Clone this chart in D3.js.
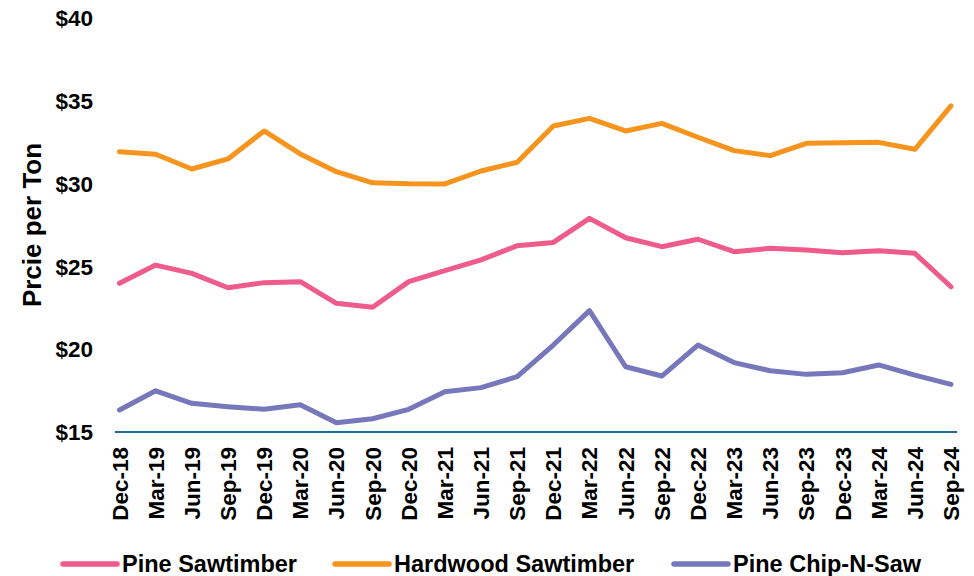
<!DOCTYPE html>
<html>
<head>
<meta charset="utf-8">
<script src="https://cdn.jsdelivr.net/npm/d3@7"></script>
<style>
  body { margin: 0; background: #fff; }
  text { font-family: "Liberation Sans", Arial, sans-serif; font-weight: bold; fill: #000; }
</style>
</head>
<body>
<div class="chart"></div>
<script>
var quarters = ["Dec-18","Mar-19","Jun-19","Sep-19","Dec-19","Mar-20","Jun-20","Sep-20","Dec-20","Mar-21","Jun-21","Sep-21",
                "Dec-21","Mar-22","Jun-22","Sep-22","Dec-22","Mar-23","Jun-23","Sep-23","Dec-23","Mar-24","Jun-24","Sep-24"];

var pineSaw = [23.98,25.08,24.58,23.71,24.02,24.08,22.77,22.53,24.08,24.74,25.39,26.25,
               26.45,27.9,26.73,26.19,26.64,25.89,26.09,25.99,25.83,25.95,25.79,23.77];
var hardwoodSaw = [31.93,31.77,30.88,31.49,33.18,31.79,30.72,30.05,29.99,29.98,30.76,31.29,
                   33.48,33.94,33.18,33.64,32.8,31.99,31.69,32.43,32.47,32.49,32.07,34.69];
var pineCns = [16.33,17.49,16.73,16.53,16.37,16.65,15.56,15.8,16.37,17.43,17.68,18.34,
               20.25,22.33,18.94,18.38,20.25,19.19,18.7,18.48,18.58,19.05,18.44,17.88];

var yTicks = [15,20,25,30,35,40];

var series = [
  {name: "Pine Sawtimber", values: pineSaw, color: "#EF5B8A"},
  {name: "Hardwood Sawtimber", values: hardwoodSaw, color: "#F7941D"},
  {name: "Pine Chip-N-Saw", values: pineCns, color: "#7777BB"}
];

var width = 974, height = 576;

var svg = d3.select(".chart").append("svg")
    .attr("width", width)
    .attr("height", height);

var x = d3.scalePoint()
    .domain(quarters)
    .range([119.5, 951]);

var y = d3.scaleLinear()
    .domain([15, 40])
    .range([432, 18]);

// y labels
svg.selectAll(".ylab")
    .data(yTicks)
    .enter().append("text")
    .attr("class", "ylab")
    .attr("x", 93)
    .attr("y", function(d){ return y(d); })
    .attr("dy", "0.36em")
    .attr("text-anchor", "end")
    .style("font-size", "22.5px")
    .text(function(d){ return "$" + d; });

svg.append("text")
    .attr("text-anchor", "middle")
    .attr("transform", "translate(41,225)rotate(-90)")
    .style("font-size", "26px")
    .text("Prcie per Ton");

// x axis baseline
svg.append("line")
    .attr("x1", 115)
    .attr("x2", 957)
    .attr("y1", y(15))
    .attr("y2", y(15))
    .attr("stroke", "#1A6E9E")
    .attr("stroke-width", 2);

svg.selectAll(".xlab")
    .data(quarters)
    .enter().append("text")
    .attr("class", "xlab")
    .attr("text-anchor", "end")
    .attr("transform", function(d){ return "translate(" + (x(d) + 8) + ",447)rotate(-90)"; })
    .style("font-size", "22.5px")
    .text(function(d){ return d; });

var line = d3.line()
    .x(function(d, i){ return x(quarters[i]); })
    .y(function(d){ return y(d); });

svg.selectAll(".series")
    .data(series)
    .enter().append("path")
    .attr("class", "series")
    .attr("d", function(d){ return line(d.values); })
    .attr("fill", "none")
    .attr("stroke", function(d){ return d.color; })
    .attr("stroke-width", 5)
    .attr("stroke-linejoin", "round")
    .attr("stroke-linecap", "round");

// legend
var legendX = [63, 335, 674];
var legend = svg.selectAll(".legend")
    .data(series)
    .enter().append("g")
    .attr("class", "legend")
    .attr("transform", function(d, i){ return "translate(" + legendX[i] + ",564)"; });

legend.append("line")
    .attr("x1", 0)
    .attr("x2", 54)
    .attr("stroke", function(d){ return d.color; })
    .attr("stroke-width", 5.5)
    .attr("stroke-linecap", "round");

legend.append("text")
    .attr("x", 59)
    .attr("dy", "0.36em")
    .style("font-size", "23.5px")
    .text(function(d){ return d.name; });
</script>
</body>
</html>
